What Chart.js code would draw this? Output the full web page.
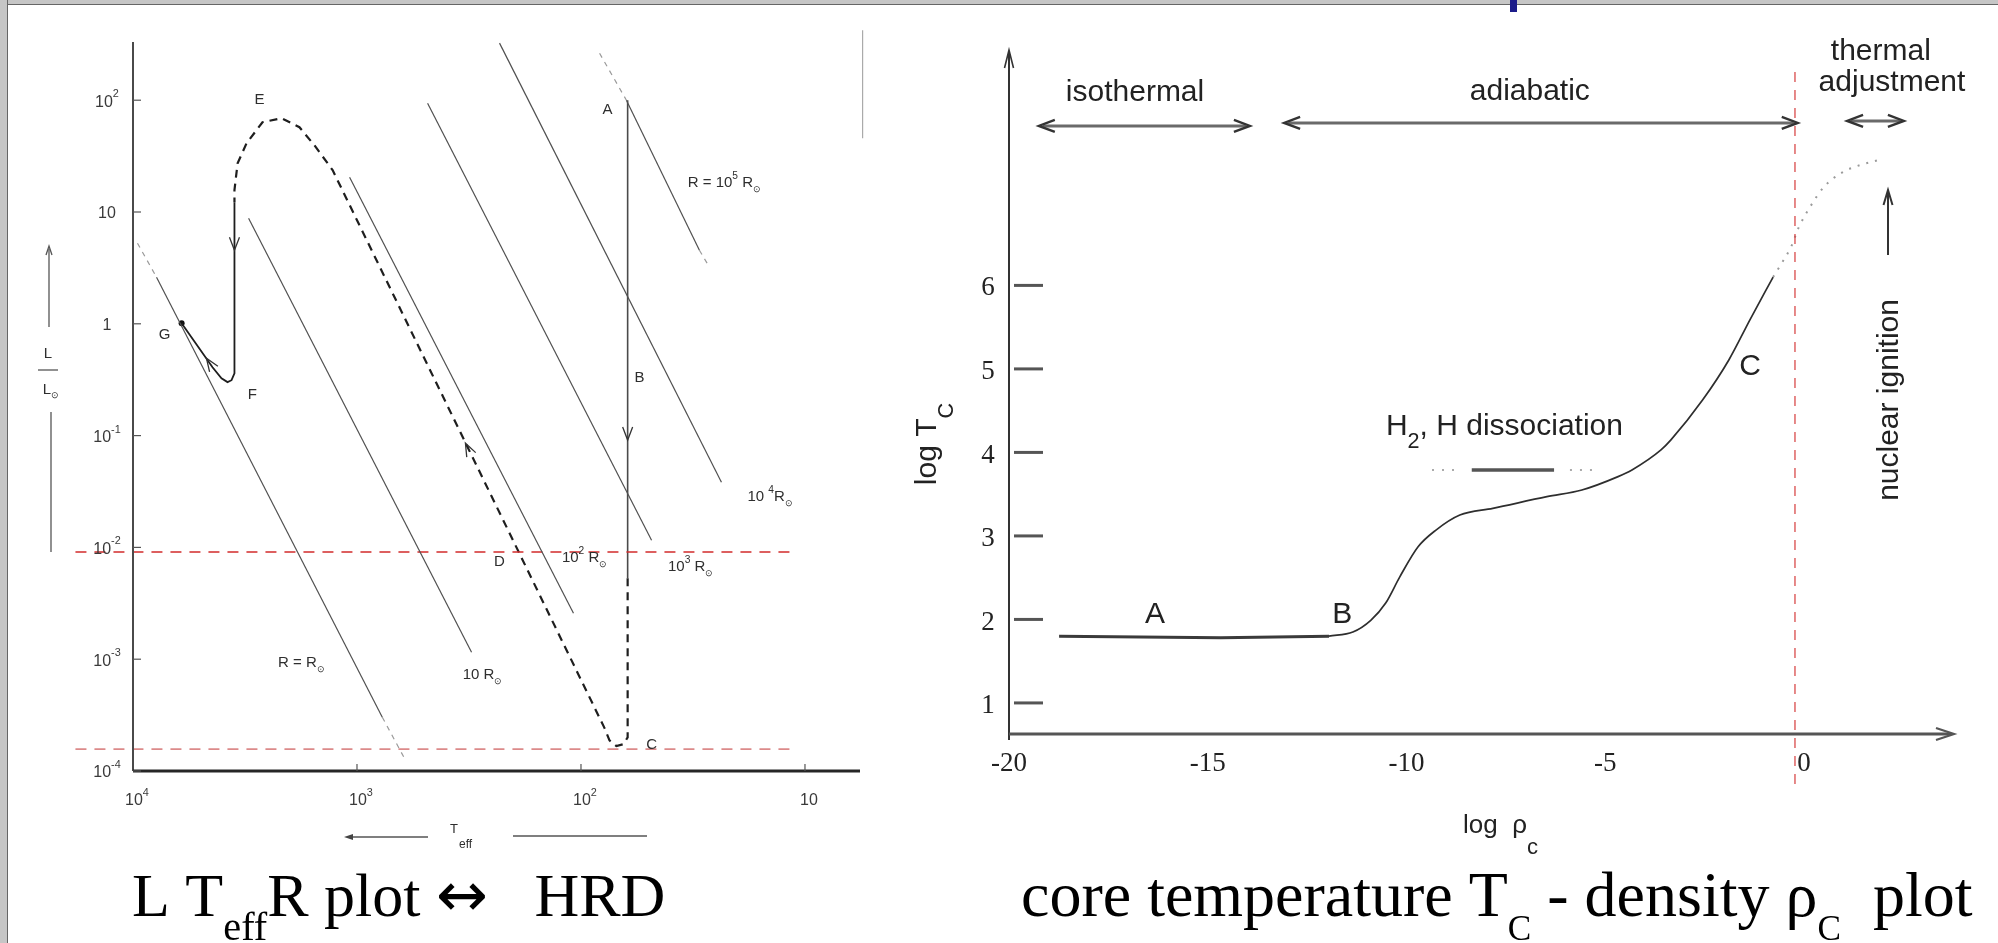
<!DOCTYPE html>
<html>
<head>
<meta charset="utf-8">
<script src="https://cdn.jsdelivr.net/npm/chart.js@4.4.0/dist/chart.umd.min.js"></script>
<style>
  body { margin:0; background:#fff; width:1998px; height:943px; overflow:hidden; position:relative; }
  canvas { position:absolute; top:0; }
  #frameTop { position:absolute; left:0; top:0; width:1998px; height:4px; background:#c6c6c6; border-bottom:1px solid #666; }
  #frameLeft { position:absolute; left:0; top:0; width:7px; height:943px; background:#c6c6c6; border-right:1px solid #666; }
  #blueMark { position:absolute; left:1510px; top:0; width:7px; height:12px; background:#1c1c8a; }
</style>
</head>
<body>
<canvas id="hrd" width="900" height="943" style="left:0"></canvas>
<canvas id="core" width="1098" height="943" style="left:900px"></canvas>
<div id="frameTop"></div><div id="frameLeft"></div><div id="blueMark"></div>
<script>
// ---------- left panel : L / L_sun against T_eff (K), lines of constant R ----------
const rLineTeff = [[7852, 771], [3048, 308], [1079, 108], [484, 48.4], [231, 23.6], [62.7, 29.6]]
const rLineLum  = [[2.61, 3.03e-4], [8.81, 1.156e-3], [20.5, 2.58e-3], [94.0, 1.16e-2], [324, 3.83e-2], [100, 4.55]]
// dashed ends of the R_sun and 10^5 R_sun lines
const rDashTeff = [[9550, 7852], [771, 614], [82.6, 62.7], [29.6, 26.7]]
const rDashLum  = [[5.26, 2.61], [3.03e-4, 1.30e-4], [263, 100], [4.55, 3.21]]

// evolutionary track A -> B -> C -> D -> E -> F -> G
const trackABTeff = [61.9, 61.9]
const trackABLum  = [100, 5.31e-3]
const trackBETeff = [61.9, 61.9, 64.6, 69.5, 74.6, 78.5, 1285, 1549, 1807, 2173, 2642, 3112, 3412, 3524, 3524]
const trackBELum  = [5.31e-3, 2.0e-4, 1.74e-4, 1.67e-4, 1.88e-4, 2.42e-4, 23.7, 39.5, 57.3, 69.0, 63.5, 41.2, 27.3, 15.7, 12.2]
const trackEGTeff = [3524, 3524, 3631, 3784, 4027, 4416, 5768, 6067]
const trackEGLum  = [12.2, 0.361, 0.313, 0.301, 0.326, 0.409, 0.877, 1.01]
const pointG = [6067, 1.01]

// arrow heads on the track: tip and a point behind it
const trackArrowTips  = [[61.9, 0.0912], [328, 0.0855], [3524, 4.55], [4699, 0.492]]
const trackArrowTails = [[61.9, 0.3], [296, 0.0566], [3524, 10], [4416, 0.409]]

// red guide lines
const guideLum  = [9.1e-3, 1.57e-4]
const guideTeff = [18070, 11.5]
const frameTeff = [5.53, 5.53]
const frameLum  = [423, 45.7]

const lumTicks  = [1e2, 1e1, 1, 1e-1, 1e-2, 1e-3, 1e-4]
const lumTickLabels = [[['10'], ['2', 'sup']], [['10']], [['1']], [['10'], ['-1', 'sup']], [['10'], ['-2', 'sup']], [['10'], ['-3', 'sup']], [['10'], ['-4', 'sup']]]
const teffTicks = [1e4, 1e3, 1e2, 10]
const teffTickLabels = [[['10'], ['4', 'sup']], [['10'], ['3', 'sup']], [['10'], ['2', 'sup']], [['10']]]

const hrdNotes = [
  { teff: 2723, lum: 100, parts: [['E']] },
  { teff: 76.2, lum: 81.5, parts: [['A']] },
  { teff: 22.9, lum: 18.1, parts: [['R = 10'], ['5', 'sup'], [' R'], ['⊙', 'sub']] },
  { teff: 7228, lum: 0.791, parts: [['G']] },
  { teff: 2931, lum: 0.230, parts: [['F']] },
  { teff: 54.8, lum: 0.326, parts: [['B']] },
  { teff: 14.3, lum: 0.0281, parts: [['10 '], ['4', 'sup'], ['R'], ['⊙', 'sub']] },
  { teff: 231, lum: 7.38e-3, parts: [['D']] },
  { teff: 96.4, lum: 8.0e-3, parts: [['10'], ['2', 'sup'], [' R'], ['⊙', 'sub']] },
  { teff: 32.4, lum: 6.65e-3, parts: [['10'], ['3', 'sup'], [' R'], ['⊙', 'sub']] },
  { teff: 1770, lum: 9.2e-4, parts: [['R = R'], ['⊙', 'sub']] },
  { teff: 275, lum: 7.19e-4, parts: [['10 R'], ['⊙', 'sub']] },
  { teff: 48.4, lum: 1.70e-4, parts: [['C']] },
]

// ---------- right panel : log T_c against log rho_c ----------
const rhoFlat   = [-18.74, -14.67, -11.95]
const tcFlat    = [1.80, 1.78, 1.80]
const rhoCurve  = [-11.95, -11.35, -10.90, -10.52, -10.17, -9.71, -9.26, -8.66, -7.83, -6.47, -5.59, -4.68, -4.33, -3.60, -3.35, -2.55, -1.89, -1.36, -0.78]
const tcCurve   = [1.80, 1.85, 1.99, 2.20, 2.51, 2.87, 3.07, 3.25, 3.33, 3.47, 3.55, 3.71, 3.79, 4.03, 4.15, 4.63, 5.11, 5.59, 6.10]
const rhoDotted = [-0.78, -0.56, -0.33, -0.13, 0.15, 0.50, 0.95, 1.40, 1.86]
const tcDotted  = [6.10, 6.27, 6.46, 6.70, 6.94, 7.18, 7.35, 7.44, 7.50]
const rhoH2     = [-8.36, -6.29]
const rhoH2DotsL = [-9.36, -8.63]
const rhoH2DotsR = [-5.89, -5.21]
const tcH2      = 3.79
const ignitionRho = -0.23
const ignitionTc  = [8.556, -0.043]

const phaseNames = ['isothermal', 'adiabatic', 'thermal adjustment']
const phaseFrom  = [-19.25, -13.08, 1.08]
const phaseTo    = [-13.94, -0.16, 2.51]
const phaseTc    = [7.91, 7.945, 7.97]
const nuclearRho = 2.11
const nuclearTc  = [6.364, 7.143]

const rhoTicks = [-20, -15, -10, -5, 0]
const tcTicks  = [1, 2, 3, 4, 5, 6]

const coreNotes = [
  { rho: -16.83, tc: 8.304, parts: [['isothermal']] },
  { rho: -6.90, tc: 8.316, parts: [['adiabatic']] },
  { rho: 1.93, tc: 8.795, parts: [['thermal']] },
  { rho: 2.21, tc: 8.424, parts: [['adjustment']] },
  { rho: -16.33, tc: 2.055, parts: [['A']] },
  { rho: -11.62, tc: 2.055, parts: [['B']] },
  { rho: -1.36, tc: 5.024, parts: [['C']] },
]

const SANS = '"Liberation Sans", Arial, sans-serif'
const SERIF = '"Liberation Serif", "Times New Roman", serif'

// ---------- helpers ----------
function line(ctx, x1, y1, x2, y2) {
  ctx.beginPath(); ctx.moveTo(x1, y1); ctx.lineTo(x2, y2); ctx.stroke()
}

function arrowHead(ctx, tx, ty, fx, fy, len, half, filled) {
  const a = Math.atan2(ty - fy, tx - fx)
  const bx = tx - len * Math.cos(a), by = ty - len * Math.sin(a)
  const px = -Math.sin(a) * half, py = Math.cos(a) * half
  ctx.beginPath()
  ctx.moveTo(bx + px, by + py); ctx.lineTo(tx, ty); ctx.lineTo(bx - px, by - py)
  if (filled) { ctx.closePath(); ctx.fill() } else ctx.stroke()
}

// text made of normal / sup / sub pieces (third item = other font family)
function rich(ctx, parts, x, y, o) {
  const pcs = parts.map(p => {
    const k = p[1] || ''
    const s = k === 'sup' ? o.size * o.supScale : k === 'sub' ? o.size * o.subScale : o.size
    return { t: p[0], k, s, f: p[2] || o.family }
  })
  let w = 0
  pcs.forEach(p => { ctx.font = p.s + 'px ' + p.f; p.w = ctx.measureText(p.t).width; w += p.w })
  let cx = o.align === 'center' ? x - w / 2 : o.align === 'right' ? x - w : x
  ctx.fillStyle = o.color
  ctx.textAlign = 'left'
  ctx.textBaseline = o.baseline || 'middle'
  pcs.forEach(p => {
    ctx.font = p.s + 'px ' + p.f
    const dy = p.k === 'sup' ? -o.size * o.supShift : p.k === 'sub' ? o.size * o.subShift : 0
    ctx.fillText(p.t, cx, y + dy)
    cx += p.w
  })
}

const pts = (xs, ys) => xs.map((v, i) => ({ x: v, y: ys[i] }))
const lineSet = (data, style) => Object.assign({ data, showLine: true, pointRadius: 0, borderWidth: 1.2, borderColor: '#555', tension: 0 }, style)

// ---------- left chart ----------
const hrdFont = { size: 16, family: SANS, color: '#3a3a3a', align: 'center', supScale: 0.68, supShift: 0.5, subScale: 0.6, subShift: 0.4 }
const noteFont = Object.assign({}, hrdFont, { size: 15, color: '#2e2e2e' })

const hrdDecor = {
  id: 'hrdDecor',
  afterDatasetsDraw(chart) {
    const { ctx, chartArea: ca, scales: { x, y } } = chart
    ctx.save()
    // axes
    ctx.strokeStyle = '#4a4a4a'; ctx.lineWidth = 2
    line(ctx, ca.left, ca.top, ca.left, ca.bottom)
    ctx.strokeStyle = '#262626'; ctx.lineWidth = 3
    line(ctx, ca.left, ca.bottom, ca.right, ca.bottom)
    ctx.strokeStyle = '#555'; ctx.lineWidth = 1.2
    lumTicks.forEach((v, i) => {
      const py = y.getPixelForValue(v)
      line(ctx, ca.left, py, ca.left + 8, py)
      rich(ctx, lumTickLabels[i], ca.left - 26, py + 2, hrdFont)
    })
    teffTicks.forEach((v, i) => {
      const px = x.getPixelForValue(v)
      if (i > 0) line(ctx, px, ca.bottom, px, ca.bottom - 7)
      rich(ctx, teffTickLabels[i], px + 4, ca.bottom + 30, hrdFont)
    })
    // track arrows
    ctx.strokeStyle = '#333'; ctx.lineWidth = 1.3
    trackArrowTips.forEach((t, i) => {
      const tail = trackArrowTails[i]
      arrowHead(ctx, x.getPixelForValue(t[0]), y.getPixelForValue(t[1]),
        x.getPixelForValue(tail[0]), y.getPixelForValue(tail[1]), 13, 5, false)
    })
    // labels
    hrdNotes.forEach(n => rich(ctx, n.parts, x.getPixelForValue(n.teff), y.getPixelForValue(n.lum), noteFont))

    // y title  ↑ L / L_sun |
    const ax = ca.left - 84
    ctx.strokeStyle = '#555'; ctx.lineWidth = 1.3
    line(ctx, ax, 327, ax, 249)
    arrowHead(ctx, ax, 246, ax, 300, 9, 3, false)
    rich(ctx, [['L']], ax - 1, 354, noteFont)
    line(ctx, ax - 11, 370, ax + 9, 370)
    rich(ctx, [['L'], ['⊙', 'sub']], ax + 2, 390, noteFont)
    line(ctx, ax + 2, 412, ax + 2, 552)
    // x title  <--- T_eff ---
    line(ctx, 428, 837, 350, 837)
    ctx.fillStyle = '#444'
    arrowHead(ctx, 344, 837, 428, 837, 9, 3, true)
    rich(ctx, [['T']], 450, 829, Object.assign({}, noteFont, { size: 13, align: 'left' }))
    rich(ctx, [['eff']], 459, 845, Object.assign({}, noteFont, { size: 12, align: 'left' }))
    line(ctx, 513, 836, 647, 836)

    // caption
    rich(ctx, [['L T'], ['eff', 'sub'], ['R plot '], ['↔', '', '"DejaVu Sans", sans-serif'], ['   HRD']], 132, 916,
      { size: 62, family: SERIF, color: '#000', align: 'left', baseline: 'alphabetic', subScale: 0.65, subShift: 0.39, supScale: 0.6, supShift: 0.4 })
    ctx.restore()
  }
}

const hrdSets = []
rLineTeff.forEach((t, i) => hrdSets.push(lineSet(pts(t, rLineLum[i]), { borderColor: '#505050', borderWidth: 1.2 })))
rDashTeff.forEach((t, i) => hrdSets.push(lineSet(pts(t, rDashLum[i]), { borderColor: '#9a9a9a', borderDash: [5, 5], clip: false })))
hrdSets.push(lineSet(pts(guideTeff, [guideLum[0], guideLum[0]]), { borderColor: '#d22b2b', borderDash: [11, 8], borderWidth: 1.5, clip: false }))
hrdSets.push(lineSet(pts(guideTeff, [guideLum[1], guideLum[1]]), { borderColor: '#dc8a8a', borderDash: [11, 8], borderWidth: 1.6, clip: false }))
hrdSets.push(lineSet(pts(trackABTeff, trackABLum), { borderColor: '#4a4a4a', borderWidth: 1.6 }))
hrdSets.push(lineSet(pts(trackBETeff, trackBELum), { borderColor: '#1e1e1e', borderWidth: 2.2, borderDash: [8, 6] }))
hrdSets.push(lineSet(pts(trackEGTeff, trackEGLum), { borderColor: '#1e1e1e', borderWidth: 1.8 }))
hrdSets.push(lineSet(pts(frameTeff, frameLum), { borderColor: '#aaa', borderWidth: 1.2, clip: false }))
hrdSets.push({ data: [{ x: pointG[0], y: pointG[1] }], showLine: false, pointRadius: 3, pointBackgroundColor: '#111', pointBorderWidth: 0 })

new Chart(document.getElementById('hrd'), {
  type: 'scatter',
  data: { datasets: hrdSets },
  options: {
    responsive: false, animation: false, devicePixelRatio: 1, events: [],
    layout: { padding: { left: 133, right: 40, top: 42, bottom: 172 } },
    plugins: { legend: { display: false }, tooltip: { enabled: false } },
    scales: {
      x: { type: 'logarithmic', reverse: true, min: 5.68, max: 1e4, bounds: 'data', display: false },
      y: { type: 'logarithmic', min: 1e-4, max: 331.6, bounds: 'data', display: false },
    },
  },
  plugins: [hrdDecor],
})

// ---------- right chart ----------
const coreFont = { size: 30, family: SANS, color: '#222', align: 'center', supScale: 0.7, supShift: 0.45, subScale: 0.72, subShift: 0.5 }
const tickFont = { size: 27, family: SERIF, color: '#222', align: 'center', supScale: 0.7, supShift: 0.4, subScale: 0.7, subShift: 0.4 }

const coreDecor = {
  id: 'coreDecor',
  afterDatasetsDraw(chart) {
    const { ctx, chartArea: ca, scales: { x, y } } = chart
    ctx.save()
    ctx.strokeStyle = '#333'; ctx.fillStyle = '#333'
    // y axis with arrow
    ctx.lineWidth = 2
    line(ctx, ca.left, ca.bottom + 6, ca.left, ca.top + 2)
    ctx.lineWidth = 1.6
    arrowHead(ctx, ca.left, ca.top, ca.left, ca.top + 40, 18, 4.5, false)
    // x axis with arrow
    ctx.strokeStyle = '#555'; ctx.lineWidth = 3
    line(ctx, ca.left, ca.bottom, ca.right - 3, ca.bottom)
    ctx.lineWidth = 2.2
    arrowHead(ctx, ca.right, ca.bottom, ca.right - 40, ca.bottom, 18, 6, false)
    // ticks
    ctx.strokeStyle = '#555'; ctx.lineWidth = 3
    tcTicks.forEach(v => {
      const py = y.getPixelForValue(v)
      line(ctx, ca.left + 5, py, ca.left + 34, py)
      rich(ctx, [[String(v)]], ca.left - 21, py + 3, tickFont)
    })
    rhoTicks.forEach(v => rich(ctx, [[String(v)]], x.getPixelForValue(v), ca.bottom + 30, tickFont))
    // phase range arrows
    phaseNames.forEach((n, i) => {
      const y0 = y.getPixelForValue(phaseTc[i])
      const a = x.getPixelForValue(phaseFrom[i]), b = x.getPixelForValue(phaseTo[i])
      ctx.strokeStyle = '#6a6a6a'; ctx.lineWidth = 3
      line(ctx, a + 4, y0, b - 4, y0)
      ctx.strokeStyle = '#333'; ctx.lineWidth = 2.4
      arrowHead(ctx, a, y0, b, y0, 16, 6, false)
      arrowHead(ctx, b, y0, a, y0, 16, 6, false)
    })
    // nuclear ignition arrow
    const nx = x.getPixelForValue(nuclearRho)
    ctx.strokeStyle = '#333'; ctx.lineWidth = 2
    line(ctx, nx, y.getPixelForValue(nuclearTc[0]), nx, y.getPixelForValue(nuclearTc[1]) + 2)
    arrowHead(ctx, nx, y.getPixelForValue(nuclearTc[1]), nx, y.getPixelForValue(nuclearTc[0]), 15, 4.5, false)
    // text
    coreNotes.forEach(n => rich(ctx, n.parts, x.getPixelForValue(n.rho), y.getPixelForValue(n.tc), coreFont))
    rich(ctx, [['H'], ['2', 'sub'], [', H dissociation']], x.getPixelForValue(-10.52), y.getPixelForValue(4.305),
      Object.assign({}, coreFont, { align: 'left' }))
    ctx.save()
    ctx.translate(x.getPixelForValue(2.16), y.getPixelForValue(4.628))
    ctx.rotate(-Math.PI / 2)
    rich(ctx, [['nuclear ignition']], 0, 0, coreFont)
    ctx.restore()
    // axis titles
    ctx.save()
    ctx.translate(ca.left - 73, 444)
    ctx.rotate(-Math.PI / 2)
    rich(ctx, [['log T'], ['C', 'sub']], 0, 0, Object.assign({}, coreFont, { baseline: 'alphabetic', subScale: 0.72, subShift: 0.55 }))
    ctx.restore()
    rich(ctx, [['log  ρ'], ['c', 'sub']], 563, 833,
      { size: 26, family: SANS, color: '#222', align: 'left', baseline: 'alphabetic', subScale: 0.85, subShift: 0.8, supScale: 0.7, supShift: 0.4 })
    // caption
    rich(ctx, [['core temperature T'], ['C', 'sub'], [' - density ρ'], ['C', 'sub'], ['  plot']], 121, 916,
      { size: 64, family: SERIF, color: '#000', align: 'left', baseline: 'alphabetic', subScale: 0.55, subShift: 0.37, supScale: 0.6, supShift: 0.4 })
    ctx.restore()
  }
}

const coreSets = [
  lineSet(pts([ignitionRho, ignitionRho], ignitionTc), { borderColor: '#d63c3c', borderDash: [10, 8], borderWidth: 1.2, clip: false }),
  lineSet(pts(rhoFlat, tcFlat), { borderColor: '#3a3a3a', borderWidth: 3 }),
  lineSet(pts(rhoCurve, tcCurve), { borderColor: '#2e2e2e', borderWidth: 1.7, cubicInterpolationMode: 'monotone' }),
  lineSet(pts(rhoDotted, tcDotted), { borderColor: '#9a9a9a', borderWidth: 2, borderDash: [2, 7], cubicInterpolationMode: 'monotone' }),
  lineSet(pts(rhoH2, [tcH2, tcH2]), { borderColor: '#555', borderWidth: 3.5 }),
  lineSet(pts(rhoH2DotsL, [tcH2, tcH2]), { borderColor: '#aaa', borderWidth: 2, borderDash: [2, 8] }),
  lineSet(pts(rhoH2DotsR, [tcH2, tcH2]), { borderColor: '#aaa', borderWidth: 2, borderDash: [2, 8] }),
]

new Chart(document.getElementById('core'), {
  type: 'scatter',
  data: { datasets: coreSets },
  options: {
    responsive: false, animation: false, devicePixelRatio: 1, events: [],
    layout: { padding: { left: 109, right: 44, top: 50, bottom: 209 } },
    plugins: { legend: { display: false }, tooltip: { enabled: false } },
    scales: {
      x: { type: 'linear', min: -20, max: 3.77, bounds: 'data', display: false },
      y: { type: 'linear', min: 0.628, max: 8.819, bounds: 'data', display: false },
    },
  },
  plugins: [coreDecor],
})
</script>
</body>
</html>
